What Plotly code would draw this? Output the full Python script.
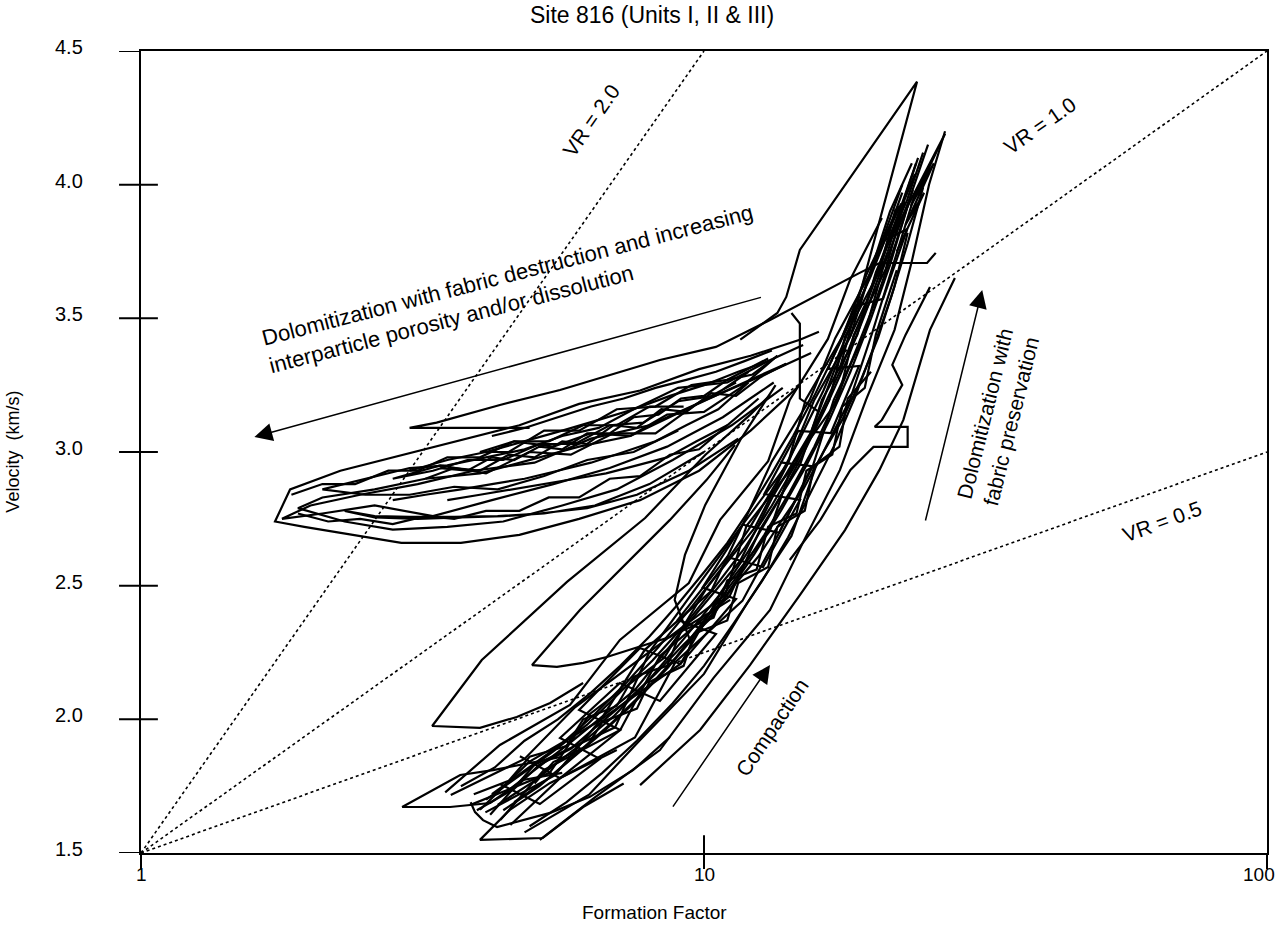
import math
import plotly.graph_objects as go

# ---------------- reference lines (velocity ratio) ----------------
vr20_ff = [1, 10]
vr20_v = [1.5, 4.5]
vr10_ff = [1, 100]
vr10_v = [1.5, 4.5]
vr05_ff = [1, 100]
vr05_v = [1.5, 3.0]

# ---------------- upper (dolomite) cluster ----------------
ua_ff = [16.0, 14.8, 12.1, 9.8, 7.7, 6.0, 4.7, 3.7, 2.9, 2.26, 1.84, 1.73, 1.95, 2.4, 2.9, 3.7, 4.7, 6.0, 7.7, 9.8, 12.1, 14.8]
ua_v = [3.45, 3.42, 3.36, 3.31, 3.23, 3.18, 3.10, 3.045, 2.99, 2.93, 2.86, 2.74, 2.72, 2.69, 2.66, 2.66, 2.69, 2.75, 2.82, 2.93, 3.08, 3.25]
ub_ff = [15.5, 12.5, 10.2, 8.0, 6.3, 5.0, 3.9, 3.1, 2.45, 2.0, 1.78, 2.1, 2.6, 3.3, 4.2, 5.4, 6.8, 8.6, 10.8, 13.3]
ub_v = [3.37, 3.28, 3.20, 3.10, 3.05, 2.96, 2.93, 2.88, 2.84, 2.80, 2.75, 2.77, 2.80, 2.76, 2.82, 2.88, 2.94, 3.02, 3.13, 3.26]
uc_ff = [14.0, 11.5, 9.3, 7.4, 6.0, 4.9, 4.0, 3.2, 2.6, 2.1, 1.9, 2.3, 2.8, 3.5, 4.4, 5.6, 7.0, 8.8, 11.2, 13.8]
uc_v = [3.33, 3.25, 3.16, 3.06, 3.02, 2.97, 2.92, 2.90, 2.86, 2.83, 2.79, 2.74, 2.71, 2.72, 2.74, 2.80, 2.86, 2.97, 3.10, 3.24]
ud_ff = [11.5, 9.4, 7.6, 6.2, 5.1, 4.3, 3.6, 3.0, 2.6, 2.3, 2.6, 3.1, 3.7, 4.4, 5.2, 6.4, 8.0, 10.0]
ud_v = [3.05, 2.93, 2.84, 2.79, 2.77, 2.76, 2.757, 2.757, 2.76, 2.78, 2.755, 2.75, 2.755, 2.76, 2.77, 2.80, 2.88, 3.0]
ue_ff = [13.0, 11.0, 9.5, 8.2, 7.0, 6.0, 5.2, 4.5, 4.0, 4.6, 5.4, 6.3, 7.4, 8.6, 10.0, 11.6, 13.5]
ue_v = [3.35, 3.27, 3.25, 3.17, 3.16, 3.08, 3.08, 3.00, 3.00, 3.04, 3.02, 3.07, 3.06, 3.14, 3.15, 3.24, 3.36]
uf_ff = [12.0, 10.4, 9.0, 7.8, 6.8, 5.9, 5.1, 4.4, 3.8, 3.3, 2.8, 3.4, 4.1, 4.9, 5.8, 6.9, 8.2, 9.7, 11.4]
uf_v = [3.30, 3.21, 3.19, 3.11, 3.10, 3.03, 3.03, 2.97, 2.97, 2.93, 2.90, 2.95, 2.92, 3.00, 2.99, 3.07, 3.07, 3.18, 3.26]
ug_ff = [15.0, 13.0, 11.0, 9.0, 7.5, 6.5, 5.6, 4.8, 4.1, 3.5, 3.0, 2.5, 2.1, 2.5, 3.0, 3.6, 4.3, 5.2, 6.2, 7.5, 9.0]
ug_v = [3.40, 3.34, 3.26, 3.24, 3.16, 3.09, 3.06, 3.01, 2.98, 2.95, 2.94, 2.90, 2.86, 2.84, 2.84, 2.87, 2.86, 2.91, 2.97, 3.00, 3.08]
ui_ff = [13.5, 12.2, 11.0, 10.0, 9.1, 8.3, 7.5, 6.8, 6.2, 5.6, 5.1, 4.6, 4.2, 3.8, 3.4]
ui_v = [3.36, 3.29, 3.27, 3.21, 3.20, 3.14, 3.13, 3.07, 3.07, 3.01, 3.02, 2.97, 2.98, 2.93, 2.94]
uj_ff = [3.2, 3.6, 4.0, 4.5, 5.0, 5.6, 6.2, 6.9, 7.6, 8.4, 9.3, 10.3, 11.4, 12.6, 14.0]
uj_v = [2.90, 2.94, 2.93, 2.99, 2.98, 3.04, 3.03, 3.10, 3.09, 3.16, 3.15, 3.22, 3.21, 3.28, 3.33]
uk_ff = [11.0, 9.8, 8.7, 7.7, 6.8, 6.0, 5.3, 4.7, 4.1, 3.6, 3.2, 2.8, 2.45, 2.15, 1.9]
uk_v = [3.10, 3.01, 2.99, 2.91, 2.90, 2.83, 2.83, 2.78, 2.78, 2.75, 2.76, 2.73, 2.75, 2.74, 2.77]
ul_ff = [1.85, 2.1, 2.4, 2.75, 3.1, 3.5, 4.0, 4.6, 5.3, 6.1, 7.0, 8.0, 9.2]
ul_v = [2.84, 2.88, 2.88, 2.93, 2.93, 2.98, 2.98, 3.04, 3.04, 3.10, 3.10, 3.17, 3.17]
um_ff = [4.2, 4.8, 5.5, 6.3, 7.2, 8.2, 9.3, 10.5, 11.8, 13.2]
um_v = [3.06, 3.09, 3.13, 3.17, 3.20, 3.24, 3.27, 3.30, 3.34, 3.38]
un_ff = [12.5, 11.0, 9.7, 8.6, 7.6, 6.7, 5.9, 5.2, 4.6, 4.0, 3.5]
un_v = [3.20, 3.10, 3.04, 2.98, 2.95, 2.92, 2.90, 2.88, 2.86, 2.84, 2.82]
uo_ff = [3.0, 3.5, 4.1, 4.8, 5.6, 6.5, 7.5, 8.7, 10.0, 11.5, 13.0]
uo_v = [2.93, 2.97, 3.00, 3.04, 3.08, 3.12, 3.16, 3.21, 3.25, 3.30, 3.34]
up_ff = [12.0, 10.6, 9.3, 8.2, 7.2, 6.3, 5.5, 4.8, 4.2, 3.7, 3.2, 2.8]
up_v = [3.26, 3.16, 3.10, 3.04, 3.00, 2.96, 2.93, 2.90, 2.88, 2.86, 2.84, 2.82]
uh_ff = [4.9, 3.0, 3.35, 4.34, 5.55, 7.09, 8.35, 10.5, 13.1, 18.9, 20.5, 24.9, 25.8]
uh_v = [3.09, 3.09, 3.11, 3.176, 3.232, 3.30, 3.344, 3.393, 3.494, 3.67, 3.707, 3.707, 3.745]
peak_ff = [11.6, 13.5, 14.0, 14.8, 23.9, 18.9, 18.2, 17.4]
peak_v = [3.42, 3.52, 3.58, 3.756, 4.385, 3.58, 3.456, 3.307]
vs_ff = [14.3, 14.8, 14.8, 16.0]
vs_v = [3.52, 3.48, 3.20, 3.15]

# ---------------- lower (compaction) band ----------------
l1_ff = [3.85, 5.32, 6.27, 8.5, 10.1, 12.3, 14.1, 15.7, 18.2, 19.7, 22.4]
l1_v = [1.68, 1.80, 2.02, 2.23, 2.49, 2.716, 2.958, 3.195, 3.434, 3.666, 3.93]
l2_ff = [21.9, 20.5, 17.8, 16.7, 14.5, 11.9, 10.9, 8.0, 6.95, 5.0, 4.17]
l2_v = [3.91, 3.677, 3.431, 3.195, 2.954, 2.724, 2.465, 2.252, 1.97, 1.83, 1.643]
l3_ff = [3.55, 4.80, 5.9, 8.0, 9.75, 11.71, 13.2, 15.41, 17.1, 19.7, 21.4, 23.4]
l3_v = [1.717, 1.852, 2.045, 2.252, 2.50, 2.728, 2.965, 3.195, 3.426, 3.666, 3.90, 4.08]
l4_ff = [25.0, 23.2, 20.75, 19.3, 17.0, 15.6, 13.6, 11.7, 8.9, 7.54, 5.55, 4.53]
l4_v = [4.15, 3.95, 3.681, 3.442, 3.195, 2.946, 2.698, 2.443, 2.215, 1.932, 1.78, 1.605]
l5_ff = [4.8, 6.25, 7.7, 10.0, 11.95, 14.3, 15.8, 18.16, 19.9, 21.6, 23.7]
l5_v = [1.577, 1.718, 1.923, 2.17, 2.437, 2.686, 2.945, 3.195, 3.446, 3.693, 3.965]
l6_ff = [22.2, 19.42, 17.6, 15.15, 14.1, 11.71, 10.3, 7.85, 6.55, 4.9, 4.0]
l6_v = [3.92, 3.662, 3.43, 3.195, 2.958, 2.728, 2.48, 2.26, 1.997, 1.842, 1.662]
l7_ff = [4.35, 5.2, 7.1, 8.35, 11.1, 12.6, 14.81, 16.2, 18.72, 20.2, 22.95, 24.5]
l7_v = [1.624, 1.811, 1.96, 2.237, 2.46, 2.713, 2.952, 3.195, 3.438, 3.673, 3.943, 4.12]
l8_ff = [20.7, 18.17, 16.6, 14.2, 13.0, 10.68, 9.4, 7.09, 5.78, 4.34, 3.47]
l8_v = [3.875, 3.644, 3.423, 3.195, 2.966, 2.746, 2.51, 2.297, 2.054, 1.904, 1.727]
l9_ff = [5.11, 6.4, 8.35, 10.4, 13.1, 15.1, 17.44, 19.4, 21.8, 23.4, 25.1, 26.8]
l9_v = [1.549, 1.708, 1.885, 2.155, 2.409, 2.675, 2.933, 3.195, 3.457, 3.714, 4.0, 4.2]
l10_ff = [3.95, 4.6, 5.1, 5.8, 6.5, 7.3, 8.2, 9.2, 10.3, 11.3, 12.5, 13.7, 15.0, 16.3, 17.6, 19.0, 20.4, 21.8, 23.0]
l10_v = [1.66, 1.74, 1.83, 1.89, 1.98, 2.07, 2.17, 2.28, 2.38, 2.50, 2.61, 2.74, 2.86, 3.00, 3.12, 3.27, 3.43, 3.62, 3.82]
l11_ff = [22.7, 21.03, 18.44, 17.3, 14.35, 13.09, 10.7, 9.08, 6.55, 5.43, 4.09]
l11_v = [3.935, 3.685, 3.436, 3.195, 2.955, 2.705, 2.47, 2.207, 1.998, 1.79, 1.652]
l12_ff = [4.52, 5.78, 7.54, 9.36, 11.59, 13.27, 15.5, 17.1, 19.4, 21.3, 23.7]
l12_v = [1.739, 1.912, 2.11, 2.357, 2.592, 2.836, 3.075, 3.314, 3.558, 3.80, 4.04]
l13_ff = [4.3, 5.0, 5.9, 6.9, 8.0, 9.2, 10.6, 12.0, 13.4, 14.9, 16.4, 18.0, 19.6, 21.2, 22.7, 24.0]
l13_v = [1.68, 1.77, 1.89, 2.01, 2.15, 2.30, 2.46, 2.63, 2.80, 2.98, 3.16, 3.35, 3.55, 3.75, 3.95, 4.10]
l14_ff = [3.7, 4.25, 4.8, 5.5, 6.3, 7.1, 8.0, 8.9, 10.0, 11.0, 12.1, 13.2, 14.4, 15.7, 17.0, 18.4, 19.8, 21.2, 22.5]
l14_v = [1.75, 1.82, 1.92, 2.0, 2.10, 2.20, 2.31, 2.42, 2.55, 2.66, 2.79, 2.92, 3.06, 3.21, 3.36, 3.51, 3.66, 3.82, 3.97]
l15_ff = [4.9, 5.7, 6.6, 7.6, 8.8, 10.0, 11.3, 12.7, 14.1, 15.5, 17.0, 18.5, 20.0, 21.5, 23.0, 24.5]
l15_v = [1.60, 1.69, 1.80, 1.92, 2.06, 2.20, 2.36, 2.52, 2.68, 2.85, 3.02, 3.20, 3.39, 3.58, 3.78, 3.99]
l16_ff = [4.1, 4.7, 5.4, 6.2, 7.1, 8.1, 9.3, 10.5, 11.8, 13.2, 14.6, 16.0, 17.5, 19.0, 20.6, 22.2, 23.8]
l16_v = [1.70, 1.79, 1.88, 1.98, 2.10, 2.22, 2.36, 2.50, 2.64, 2.80, 2.96, 3.13, 3.31, 3.50, 3.70, 3.90, 4.08]
l17_ff = [4.4, 5.1, 5.8, 6.6, 7.5, 8.6, 9.8, 11.0, 12.3, 13.7, 15.2, 16.7, 18.2, 19.8, 21.4, 23.0]
l17_v = [1.66, 1.75, 1.85, 1.95, 2.06, 2.19, 2.33, 2.47, 2.62, 2.78, 2.95, 3.12, 3.30, 3.50, 3.70, 3.92]
l18_ff = [3.9, 4.5, 4.9, 5.7, 6.1, 7.0, 7.5, 8.6, 9.1, 10.4, 11.0, 12.4, 13.0, 14.6, 15.2, 16.9, 17.6, 19.3, 20.2, 22.0]
l18_v = [1.72, 1.77, 1.86, 1.90, 2.0, 2.05, 2.16, 2.20, 2.33, 2.38, 2.52, 2.56, 2.72, 2.77, 2.93, 2.99, 3.17, 3.24, 3.44, 3.68]
l19_ff = [4.2, 4.9, 5.6, 6.4, 7.3, 8.3, 9.5, 10.7, 12.0, 13.4, 14.8, 16.3, 17.8, 19.3, 20.9, 22.5]
l19_v = [1.72, 1.82, 1.91, 2.02, 2.14, 2.27, 2.42, 2.56, 2.71, 2.88, 3.05, 3.23, 3.42, 3.61, 3.81, 4.00]
l20_ff = [4.6, 5.3, 6.0, 6.8, 7.8, 8.9, 10.1, 11.4, 12.8, 14.2, 15.7, 17.2, 18.7, 20.3, 21.9, 23.5]
l20_v = [1.69, 1.78, 1.88, 1.98, 2.10, 2.23, 2.38, 2.53, 2.69, 2.85, 3.02, 3.20, 3.39, 3.58, 3.78, 3.98]
l21_ff = [5.0, 5.4, 6.2, 6.6, 7.6, 8.0, 9.2, 9.6, 11.0, 11.5, 13.0, 13.5, 15.1, 15.7, 17.4, 18.0, 19.8]
l21_v = [1.76, 1.84, 1.90, 1.99, 2.04, 2.14, 2.20, 2.32, 2.37, 2.51, 2.57, 2.72, 2.78, 2.95, 3.02, 3.20, 3.30]
lr1_ff = [4.71, 5.55, 7.1, 6.0, 7.7, 9.08, 11.4, 9.94, 11.71, 13.6, 15.55, 13.65]
lr1_v = [1.862, 1.78, 1.96, 2.035, 2.267, 2.207, 2.45, 2.493, 2.728, 2.698, 2.947, 2.961]
lr2_ff = [4.34, 5.11, 6.53, 5.55, 7.09, 8.35, 10.5, 8.98, 10.99, 12.73, 14.81, 12.8, 14.7, 16.8, 18.85, 16.6, 18.6, 20.8, 22.96, 20.8]
lr2_v = [1.758, 1.683, 1.852, 1.93, 2.136, 2.069, 2.319, 2.372, 2.607, 2.57, 2.821, 2.843, 3.079, 3.071, 3.322, 3.311, 3.546, 3.573, 3.834, 3.789]
lobe1_ff = [6.1, 5.33, 4.65, 4.0, 3.29, 4.03, 5.71, 7.86, 10.05, 12.07, 13.1]
lobe1_v = [2.136, 2.061, 2.009, 1.968, 1.975, 2.222, 2.514, 2.753, 2.989, 3.139, 3.213]
lobe2_ff = [11.13, 8.70, 6.72, 6.1, 5.48, 4.95, 6.02, 7.39, 8.70, 10.1, 11.35]
lobe2_v = [2.447, 2.308, 2.233, 2.211, 2.196, 2.203, 2.409, 2.596, 2.746, 2.895, 3.026]
left_ff = [13.4, 11.6, 10.05, 9.25, 8.87, 9.44]
left_v = [3.25, 3.045, 2.802, 2.615, 2.447, 2.297]
bt1_ff = [5.6, 4.22, 3.69, 2.91, 3.54, 4.17, 4.77, 5.6]
bt1_v = [1.86, 1.81, 1.792, 1.672, 1.672, 1.687, 1.773, 1.80]
bt2_ff = [3.85, 3.92, 4.05, 4.29, 5.33, 6.27, 7.48, 8.70]
bt2_v = [1.69, 1.653, 1.623, 1.597, 1.65, 1.71, 1.81, 1.934]
bt3_ff = [7.0, 5.33, 4.52, 4.0, 5.17, 6.1, 7.2]
bt3_v = [1.885, 1.762, 1.661, 1.549, 1.556, 1.672, 1.76]
r1_ff = [27.9, 25.2, 22.6, 20.5, 17.8, 14.8, 12.07, 9.84, 7.7]
r1_v = [3.651, 3.457, 3.12, 2.933, 2.708, 2.465, 2.203, 1.96, 1.754]
r2_ff = [25.2, 22.8, 21.6, 22.5, 20.7, 20.1, 23.0, 23.0, 20.0, 18.2, 16.1, 14.2]
r2_v = [3.617, 3.438, 3.326, 3.251, 3.12, 3.094, 3.094, 3.019, 3.019, 2.933, 2.746, 2.596]
spk_ff = [21.5, 26.8, 23.3, 25.6, 22.8, 24.6, 22.0]
spk_v = [3.80, 4.19, 3.92, 4.08, 3.85, 3.97, 3.75]

# ---------------- axes ----------------
x_tickvals = [1, 10, 100]
x_ticktext = ["1", "10", "100"]
y_tickvals = [1.5, 2.0, 2.5, 3.0, 3.5, 4.0, 4.5]
y_ticktext = ["1.5", "2.0", "2.5", "3.0", "3.5", "4.0", "4.5"]

# ---------------- annotation arrows (tail -> head, data units) ----------------
arrow_destruction = ((12.7, 3.58), (1.59, 3.056))
arrow_preservation = ((24.7, 2.738), (31.2, 3.606))
arrow_compaction = ((8.77, 1.668), (13.1, 2.203))

paths = [
    (ua_ff, ua_v), (ub_ff, ub_v), (uc_ff, uc_v), (ud_ff, ud_v), (ue_ff, ue_v),
    (uf_ff, uf_v), (ug_ff, ug_v), (ui_ff, ui_v), (uj_ff, uj_v), (uk_ff, uk_v),
    (ul_ff, ul_v), (um_ff, um_v), (un_ff, un_v), (uo_ff, uo_v), (up_ff, up_v),
    (uh_ff, uh_v), (peak_ff, peak_v), (vs_ff, vs_v),
    (l1_ff, l1_v), (l2_ff, l2_v), (l3_ff, l3_v), (l4_ff, l4_v), (l5_ff, l5_v),
    (l6_ff, l6_v), (l7_ff, l7_v), (l8_ff, l8_v), (l9_ff, l9_v), (l10_ff, l10_v),
    (l11_ff, l11_v), (l12_ff, l12_v), (l13_ff, l13_v), (l14_ff, l14_v), (l15_ff, l15_v),
    (l16_ff, l16_v), (l17_ff, l17_v), (l18_ff, l18_v), (l19_ff, l19_v), (l20_ff, l20_v),
    (l21_ff, l21_v), (lr1_ff, lr1_v), (lr2_ff, lr2_v),
    (lobe1_ff, lobe1_v), (lobe2_ff, lobe2_v), (left_ff, left_v),
    (bt1_ff, bt1_v), (bt2_ff, bt2_v), (bt3_ff, bt3_v),
    (r1_ff, r1_v), (r2_ff, r2_v), (spk_ff, spk_v),
]

FONT = "Arial, Liberation Sans, sans-serif"
fig = go.Figure()

for fx, fy in [(vr20_ff, vr20_v), (vr10_ff, vr10_v), (vr05_ff, vr05_v)]:
    fig.add_trace(go.Scatter(x=fx, y=fy, mode="lines",
                             line=dict(color="black", width=1.6, dash="dot"),
                             hoverinfo="skip", showlegend=False))

for fx, fy in paths:
    fig.add_trace(go.Scatter(x=fx, y=fy, mode="lines",
                             line=dict(color="black", width=2.2),
                             hoverinfo="skip", showlegend=False))

shapes = []
for v in y_tickvals:
    inner = 0.015 if 1.5 < v < 4.5 else 0.0
    shapes.append(dict(type="line", xref="paper", yref="y", x0=-0.0195, x1=inner,
                       y0=v, y1=v, line=dict(color="black", width=2)))
for i, xv in enumerate(x_tickvals):
    px = i / 2.0
    top = 0.022 if i == 1 else 0.0
    shapes.append(dict(type="line", xref="paper", yref="paper", x0=px, x1=px,
                       y0=-0.02, y1=top, line=dict(color="black", width=2)))

annotations = []
def arrow(tail, head):
    annotations.append(dict(x=math.log10(head[0]), y=head[1], ax=math.log10(tail[0]), ay=tail[1],
                            xref="x", yref="y", axref="x", ayref="y", text="",
                            showarrow=True, arrowhead=2, arrowsize=2.4, arrowwidth=1.5,
                            arrowcolor="black"))
arrow(*arrow_destruction)
arrow(*arrow_preservation)
arrow(*arrow_compaction)

def label(text, ff, v, angle, size=21, align="center"):
    annotations.append(dict(x=math.log10(ff), y=v, xref="x", yref="y", text=text,
                            showarrow=False, textangle=angle, align=align,
                            font=dict(family=FONT, size=size, color="black"),
                            xanchor="center", yanchor="middle"))

label("Dolomitization with fabric destruction and increasing<br>interparticle porosity and/or dissolution",
      4.55, 3.61, -14.5, size=22, align="left")
label("Dolomitization with<br>fabric preservation", 33.3, 3.13, -76, align="left")
label("Compaction", 13.2, 1.97, -56)
label("VR = 2.0", 6.3, 4.24, -55)
label("VR = 1.0", 39.5, 4.22, -35)
label("VR = 0.5", 65.0, 2.74, -20)

for v, t in zip(y_tickvals, y_ticktext):
    annotations.append(dict(x=-0.05, y=v, xref="paper", yref="y", text=t, showarrow=False,
                            xanchor="right", yanchor="middle", yshift=4,
                            font=dict(family=FONT, size=20, color="black")))
x_label_shift = [0, 0, -8]
for i, t in enumerate(x_ticktext):
    annotations.append(dict(x=i / 2.0, y=0, xref="paper", yref="paper", text=t, showarrow=False,
                            xanchor="center", yanchor="top", yshift=-9, xshift=x_label_shift[i],
                            font=dict(family=FONT, size=19, color="black")))

annotations.append(dict(x=0.456, y=-0.074, xref="paper", yref="paper", text="Formation Factor",
                        showarrow=False, font=dict(family=FONT, size=19, color="black"),
                        xanchor="center", yanchor="middle"))
annotations.append(dict(x=-0.114, y=0.5, xref="paper", yref="paper", text="Velocity  (km/s)",
                        showarrow=False, textangle=-90, font=dict(family=FONT, size=18, color="black"),
                        xanchor="center", yanchor="middle"))

fig.update_layout(
    width=1281, height=937,
    margin=dict(l=141, r=14, t=51, b=84, autoexpand=False),
    paper_bgcolor="white", plot_bgcolor="white",
    title=dict(text="Site 816 (Units I, II & III)", x=0.509, xref="container", xanchor="center",
               y=1 - 15 / 937, yref="container", yanchor="middle",
               font=dict(family=FONT, size=23, color="black")),
    xaxis=dict(type="log", range=[0, 2], showticklabels=False, automargin=False,
               showline=True, linecolor="black", linewidth=2, mirror=True,
               showgrid=False, zeroline=False, ticks=""),
    yaxis=dict(range=[1.5, 4.5], showticklabels=False, automargin=False,
               showline=True, linecolor="black", linewidth=2, mirror=True,
               showgrid=False, zeroline=False, ticks=""),
    shapes=shapes, annotations=annotations,
    showlegend=False,
)

fig.write_html("out.html")
